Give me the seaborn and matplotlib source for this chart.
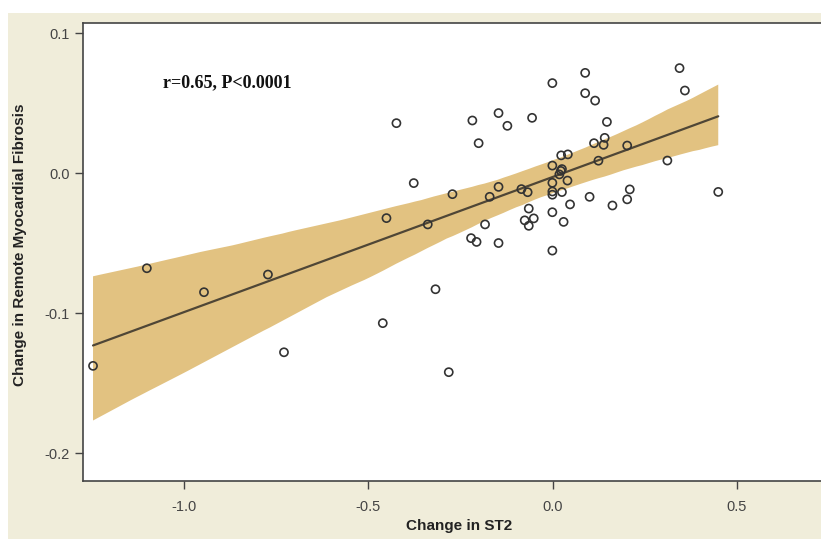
import numpy as np
import pandas as pd
import matplotlib
matplotlib.use("Agg")
import matplotlib.pyplot as plt
import seaborn as sns
from matplotlib.patches import Rectangle
from matplotlib.collections import PolyCollection

# Data
change_st2 = [
    -1.247, -1.101, -0.946, -0.7725, -0.729, -0.461, -0.424, -0.377, -0.451, -0.318,
    -0.282, -0.272, -0.339, -0.218, -0.147, -0.123, -0.201, -0.056, -0.001, 0.088,
    0.088, 0.115, 0.147, 0.141, 0.138, 0.112, 0.202, 0.124, 0.311, 0.344,
    0.3585, 0.449, 0.023, 0.041, -0.001, 0.025, 0.018, 0.040, -0.001, -0.001,
    -0.001, 0.025, -0.085, -0.068, -0.147, -0.171, 0.100, 0.047, 0.162, 0.209,
    0.202, -0.001, 0.0295, -0.065, -0.076, -0.0515, -0.065, -0.1836, -0.2215, -0.2066,
    -0.147, -0.001, 0.022,
]
change_fibrosis = [
    -0.1376, -0.0679, -0.0850, -0.0724, -0.1279, -0.1071, 0.0357, -0.0071, -0.0321, -0.0829,
    -0.1421, -0.0150, -0.0366, 0.0376, 0.0429, 0.0338, 0.0214, 0.0395, 0.0643, 0.0716,
    0.0571, 0.0518, 0.0366, 0.0252, 0.0202, 0.0214, 0.0197, 0.0089, 0.0090, 0.0750,
    0.0590, -0.0134, 0.0127, 0.0134, 0.0054, 0.0029, -0.0009, -0.0053, -0.0069, -0.0131,
    -0.0154, -0.0135, -0.0114, -0.0136, -0.0098, -0.0169, -0.0169, -0.0223, -0.0231, -0.0116,
    -0.0187, -0.0279, -0.0348, -0.0253, -0.0337, -0.0323, -0.0376, -0.0366, -0.0464, -0.0491,
    -0.0499, -0.0553, 0.0016,
]
x_ticks = [-1.0, -0.5, 0.0, 0.5]
y_ticks = [-0.2, -0.1, 0.0, 0.1]
annotation = "r=0.65, P<0.0001"
x_label = "Change in ST2"
y_label = "Change in Remote Myocardial Fibrosis"

df = pd.DataFrame({"st2": change_st2, "fib": change_fibrosis})

sns.set_style("white")
plt.rcParams["font.family"] = ["Liberation Sans", "DejaVu Sans"]

BG = "#f0edda"
BAND = "#e2c281"
LINE = "#4f4636"
EDGE = "#333333"

AX_L, AX_R, AX_T, AX_B = 82.7, 821.0, 23.3, 480.7
AW, AH = AX_R - AX_L, AX_B - AX_T

fig = plt.figure(figsize=(8.21, 5.39), dpi=100, facecolor="white")
fig.patches.append(Rectangle((8 / 821, 0), 1, 1 - 13 / 539, transform=fig.transFigure,
                             facecolor=BG, edgecolor="none", zorder=-10))
ax = fig.add_axes([AX_L / 821, (539 - AX_B) / 539, AW / 821 + 0.01, AH / 539])
ax.set_facecolor("white")

sns.regplot(data=df, x="st2", y="fib", ax=ax, scatter=False, ci=99, n_boot=4000, seed=0,
            color=LINE, line_kws={"color": LINE, "lw": 1.6})
for coll in ax.collections:
    if isinstance(coll, PolyCollection):
        coll.set_facecolor(BAND)
        coll.set_alpha(1.0)
        coll.set_edgecolor("none")

sns.scatterplot(data=df, x="st2", y="fib", ax=ax, s=34, facecolor="none",
                edgecolor=EDGE, linewidth=1.2, zorder=5)

ax.set_xlim(-1.275, 0.75)
ax.set_ylim(-0.2196, 0.107)
ax.set_xticks(x_ticks)
ax.set_xticklabels([f"{v:.1f}" for v in x_ticks])
ax.set_yticks(y_ticks)
ax.set_yticklabels([f"{v:.1f}" for v in y_ticks])
ax.tick_params(axis="both", which="major", direction="out", length=6, width=1,
               color="#444444", labelcolor="#444444", labelsize=10.5, left=True, bottom=True)
ax.tick_params(axis="x", pad=8)

for side in ["left", "bottom", "top"]:
    ax.spines[side].set_visible(True)
    ax.spines[side].set_color("#444444")
    ax.spines[side].set_linewidth(1.2)
ax.spines["right"].set_visible(False)

ax.set_xlabel(x_label, fontsize=11, fontweight="bold", color="#222222")
ax.set_ylabel(y_label, fontsize=11, fontweight="bold", color="#222222")
ax.xaxis.set_label_coords((455 - AX_L) / AW, -(519 - AX_B) / AH)
ax.yaxis.set_label_coords(-(AX_L - 28) / AW, (AX_B - 245) / AH)

ax.text((162 - AX_L) / AW, (AX_B - 83) / AH, annotation,
        transform=ax.transAxes, fontsize=13, fontweight="bold",
        family=["Liberation Serif", "DejaVu Serif"], va="center", ha="left", color="#111111")

fig.savefig("out.png", dpi=100, facecolor=fig.get_facecolor())
